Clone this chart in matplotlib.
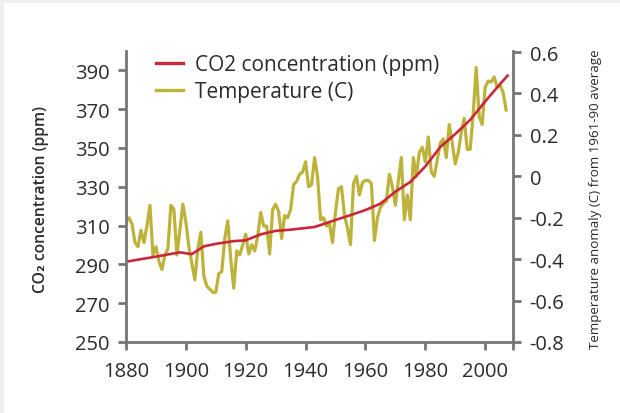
import matplotlib
matplotlib.use("Agg")
import matplotlib.pyplot as plt
from matplotlib.patches import Rectangle
import numpy as np

# ---------------- data ----------------
temp_years = list(range(1880, 2008))
temp_anomaly = [
    -0.22, -0.20, -0.23, -0.32, -0.34, -0.26, -0.32, -0.24, -0.14, -0.38,   # 1880s
    -0.34, -0.41, -0.45, -0.38, -0.35, -0.14, -0.16, -0.38, -0.26, -0.135,  # 1890s
    -0.22, -0.34, -0.42, -0.50, -0.35, -0.27, -0.48, -0.53, -0.545, -0.56,  # 1900s
    -0.56, -0.47, -0.46, -0.30, -0.215, -0.40, -0.54, -0.36, -0.38, -0.33,  # 1910s
    -0.28, -0.375, -0.33, -0.36, -0.29, -0.175, -0.24, -0.24, -0.375, -0.16,  # 1920s
    -0.135, -0.17, -0.30, -0.19, -0.20, -0.16, -0.04, -0.025, 0.01, 0.02,   # 1930s
    0.07, -0.05, -0.04, 0.09, 0.0, -0.21, -0.20, -0.24, -0.23, -0.32,       # 1940s
    -0.17, -0.06, -0.05, -0.19, -0.25, -0.33, -0.035, 0.0, -0.09, -0.03,    # 1950s
    -0.02, -0.02, -0.035, -0.31, -0.20, -0.15, -0.13, -0.12, 0.01, -0.05,   # 1960s
    -0.14, -0.02, 0.09, -0.21, -0.09, -0.21, 0.09, 0.0, 0.115, 0.14,        # 1970s
    0.07, 0.19, 0.02, 0.0, 0.08, 0.16, 0.18, 0.09, 0.25, 0.16,              # 1980s
    0.06, 0.115, 0.21, 0.28, 0.13, 0.13, 0.30, 0.525, 0.29, 0.25,           # 1990s
    0.43, 0.46, 0.455, 0.48, 0.43, 0.44, 0.405, 0.32,                       # 2000s
]

co2_years = [1880, 1890, 1898, 1902, 1906, 1910, 1916, 1920, 1925, 1930, 1935,
             1943, 1946, 1950, 1955, 1960, 1965, 1970, 1975, 1980, 1985, 1990,
             1995, 2000, 2005, 2007.5]
co2_ppm = [291.4, 294.0, 296.2, 295.3, 299.3, 300.6, 302.0, 302.4, 305.5, 307.3,
           307.9, 309.3, 310.8, 312.9, 315.4, 318.0, 321.3, 327.5, 332.5, 340.5,
           350.5, 357.2, 364.5, 374.0, 383.0, 387.3]

co2_ticks = [250, 270, 290, 310, 330, 350, 370, 390]
temp_ticks = [-0.8, -0.6, -0.4, -0.2, 0, 0.2, 0.4, 0.6]
temp_tick_labels = ["-0.8", "-0.6", "-0.4", "-0.2", "0", "0.2", "0.4", "0.6"]
year_ticks = [1880, 1900, 1920, 1940, 1960, 1980, 2000]

# ---------------- style ----------------
FONT = ["Open Sans", "DejaVu Sans"]
plt.rcParams["font.family"] = FONT
TXT = "#2b2b2b"
SPINE = "#767676"
RED = "#c8283a"
OLIVE = "#bdb23a"

fig = plt.figure(figsize=(6.2, 4.14), dpi=100)
fig.patch.set_facecolor("#edf0ec")
fig.patches.append(Rectangle((4 / 620, 0), 1, 410 / 414, transform=fig.transFigure,
                             facecolor="white", edgecolor="none", zorder=-10))

ax = fig.add_axes([126 / 620, 71 / 414, (513 - 126) / 620, (343 - 52) / 414])
ax2 = ax.twinx()
ax.set_zorder(ax2.get_zorder() + 1)
ax.patch.set_visible(False)
ax2.patch.set_visible(False)

l2, = ax2.plot(temp_years, temp_anomaly, color=OLIVE, lw=2.3, solid_joinstyle="round",
               label="Temperature (C)")
l1, = ax.plot(co2_years, co2_ppm, color=RED, lw=1.9, solid_joinstyle="round",
              label="CO2 concentration (ppm)")

ax.set_xlim(1880, 2009.3)
ax.set_ylim(250, 400)
ax2.set_ylim(-0.8, 0.605)

ax.set_yticks(co2_ticks)
ax.set_xticks(year_ticks)
ax.set_xticks([2009.3], minor=True)
ax2.set_yticks(temp_ticks)
ax2.set_yticklabels(temp_tick_labels)

for a in (ax, ax2):
    for s in a.spines.values():
        s.set_color(SPINE)
        s.set_linewidth(2.0)
    a.spines["top"].set_visible(False)
ax.spines["right"].set_visible(False)
ax2.spines["left"].set_visible(False)
ax2.spines["bottom"].set_visible(False)

ax.tick_params(axis="both", which="both", direction="out", length=6, width=2.0,
               color=SPINE, labelsize=14.5, labelcolor=TXT)
ax.tick_params(axis="y", pad=6)
ax.tick_params(axis="x", pad=8)
ax2.tick_params(axis="y", direction="out", length=6, width=2.0, color=SPINE,
                labelsize=14.5, labelcolor=TXT, pad=6)

fig.text(41 / 620, 1 - 200 / 414, "CO₂ concentration (ppm)", rotation=90,
         ha="center", va="center", fontsize=11.3, fontweight="semibold", color=TXT)
fig.text(595 / 620, 1 - 199 / 414, "Temperature anomaly (C) from 1961-90 average",
         rotation=90, ha="center", va="center", fontsize=9.6, color=TXT)

leg = ax.legend(handles=[l1, l2], loc="upper left", bbox_to_anchor=(0.0775, 0.99),
                frameon=False, fontsize=15, handlelength=1.3, handletextpad=0.55,
                labelspacing=0.3, borderaxespad=0, borderpad=0)
for t in leg.get_texts():
    t.set_color(TXT)
for h in leg.legend_handles:
    h.set_linewidth(2.4)

fig.savefig("out.png", dpi=100, facecolor=fig.get_facecolor())
